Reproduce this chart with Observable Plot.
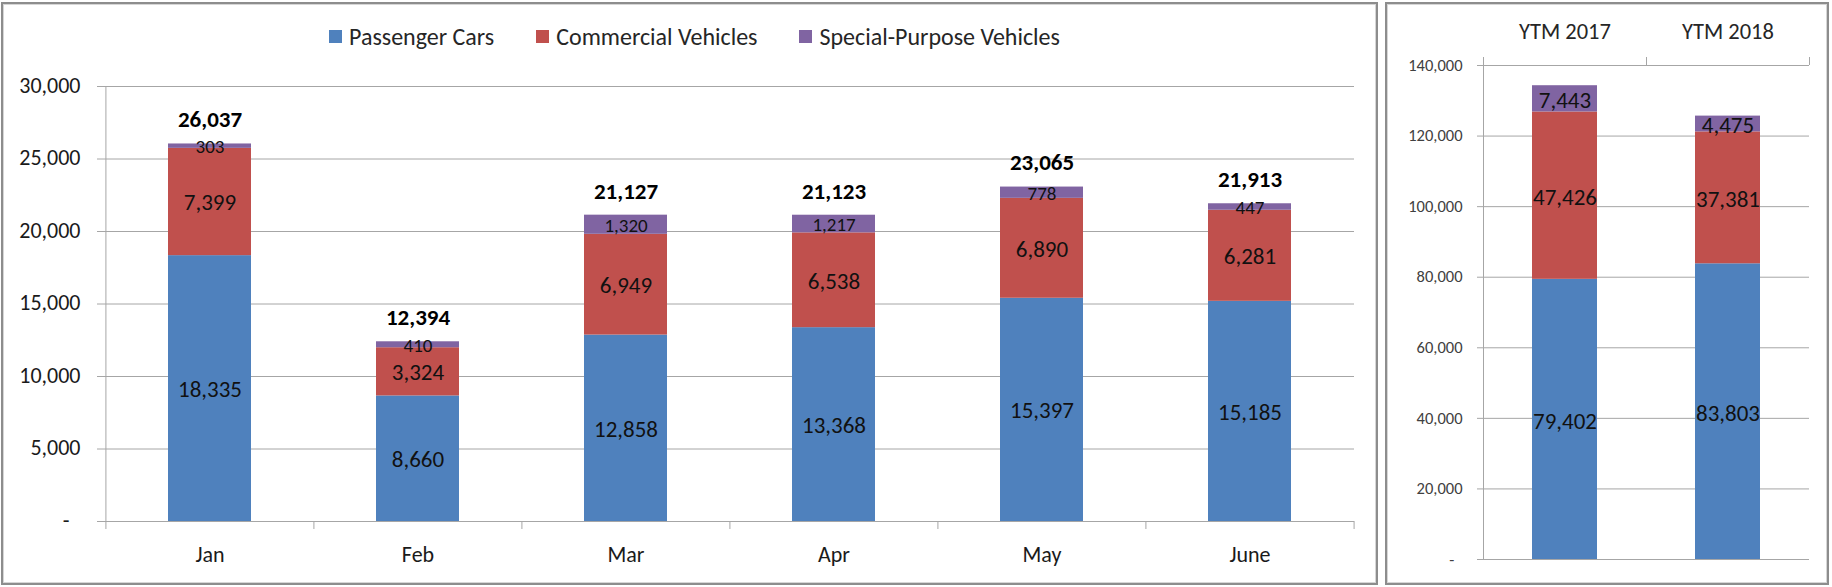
<!DOCTYPE html>
<html>
<head>
<meta charset="utf-8">
<script src="https://cdn.jsdelivr.net/npm/d3@7"></script>
<script src="https://cdn.jsdelivr.net/npm/@observablehq/plot@0.6"></script>
<style>
  html, body { margin: 0; padding: 0; background: #fff; }
  body { width: 1832px; height: 587px; position: relative; overflow: hidden; font-family: Calibri, Carlito, Lato, sans-serif; }
  .panel { position: absolute; box-sizing: border-box; border: 2px solid #8d8d8d; box-shadow: inset 0 0 0 1px #d6d6d6; pointer-events: none; }
  #left-panel { left: 1px; top: 2px; width: 1377px; height: 583px; }
  #right-panel { left: 1385px; top: 2px; width: 444px; height: 583px; }
  #legend { position: absolute; left: 329px; top: 22px; display: flex; align-items: center; font-size: 24px; color: #262626; white-space: nowrap; }
  #legend .item { display: flex; align-items: center; margin-right: 42px; }
  #legend .sw { width: 13px; height: 13px; margin-right: 7px; }
  #leftChart { position: absolute; left: 0; top: 0; }
  #rightChart { position: absolute; left: 1386px; top: 0; }
</style>
</head>
<body>
<div id="leftChart"></div>
<div id="rightChart"></div>
<div id="legend"></div>
<div class="panel" id="left-panel"></div>
<div class="panel" id="right-panel"></div>
<script>
// ---------- data ----------
const seriesNames = ["Passenger Cars", "Commercial Vehicles", "Special-Purpose Vehicles"];
const seriesColors = ["#4F81BD", "#C0504D", "#8064A2"];

const months = ["Jan", "Feb", "Mar", "Apr", "May", "June"];
const passengerCars = [18335, 8660, 12858, 13368, 15397, 15185];
const commercialVehicles = [7399, 3324, 6949, 6538, 6890, 6281];
const specialPurposeVehicles = [303, 410, 1320, 1217, 778, 447];
const monthTotals = [26037, 12394, 21127, 21123, 23065, 21913];
const leftTicks = [0, 5000, 10000, 15000, 20000, 25000, 30000];

const ytmPeriods = ["YTM 2017", "YTM 2018"];
const ytmPassengerCars = [79402, 83803];
const ytmCommercialVehicles = [47426, 37381];
const ytmSpecialPurposeVehicles = [7443, 4475];
const rightTicks = [0, 20000, 40000, 60000, 80000, 100000, 120000, 140000];

// ---------- helpers ----------
const FONT = "Calibri, Carlito, Lato, sans-serif";
const GRID = "#a6a6a6";
const num = d3.format(",");
function toRows(cats, a, b, c) {
  return cats.flatMap((k, i) => [
    {cat: k, series: seriesNames[0], value: a[i]},
    {cat: k, series: seriesNames[1], value: b[i]},
    {cat: k, series: seriesNames[2], value: c[i]}
  ]);
}
const monthRows = toRows(months, passengerCars, commercialVehicles, specialPurposeVehicles);
const ytmRows = toRows(ytmPeriods, ytmPassengerCars, ytmCommercialVehicles, ytmSpecialPurposeVehicles);

// ---------- legend ----------
const legend = document.getElementById("legend");
seriesNames.forEach((s, i) => {
  const it = document.createElement("div");
  it.className = "item";
  const sw = document.createElement("span");
  sw.className = "sw";
  sw.style.background = seriesColors[i];
  const tx = document.createElement("span");
  tx.textContent = s;
  it.appendChild(sw); it.appendChild(tx);
  legend.appendChild(it);
});

// ---------- left chart ----------
{
  const W = 1377, H = 587, mL = 105, mR = 23, mT = 86, mB = 66;
  const step = (W - mL - mR) / months.length;
  const chart = Plot.plot({
    width: W, height: H,
    marginLeft: mL, marginRight: mR, marginTop: mT, marginBottom: mB,
    style: {fontFamily: FONT, fontSize: "22px", color: "#1a1a1a", background: "transparent", overflow: "visible"},
    x: {domain: months, paddingInner: 0.6, paddingOuter: 0.3, label: null},
    y: {domain: [0, 30000], label: null},
    color: {domain: seriesNames, range: seriesColors},
    marks: [
      Plot.ruleY(leftTicks, {stroke: GRID, insetLeft: -8}),
      Plot.ruleX([months[0]], {x: d => d, dx: -step / 2, y1: 0, y2: 30000, stroke: GRID}),
      Plot.ruleX(months, {x: d => d, dx: -step / 2, y1: 0, y2: 0, insetBottom: -8, stroke: GRID}),
      Plot.ruleX([months[months.length - 1]], {x: d => d, dx: step / 2, y1: 0, y2: 0, insetBottom: -8, stroke: GRID}),
      Plot.barY(monthRows, Plot.stackY({x: "cat", y: "value", z: "series", fill: "series"})),
      Plot.text(monthRows, Plot.stackY({
        x: "cat", y: "value", z: "series",
        text: d => num(d.value),
        fontSize: d => d.series === seriesNames[2] ? 19 : 23,
        fill: "#111", dy: 1
      })),
      Plot.text(months, {
        x: d => d, y: (d, i) => monthTotals[i], text: (d, i) => num(monthTotals[i]),
        dy: -24, fontWeight: "bold", fontSize: 23, fill: "#000"
      }),
      Plot.axisY({ticks: leftTicks, tickSize: 0, tickPadding: 25, fontSize: 22, label: null, dy: -1,
        tickFormat: d => d === 0 ? "-\u2002" : num(d)}),
      Plot.axisX({tickSize: 0, tickPadding: 25, fontSize: 22, label: null})
    ]
  });
  document.getElementById("leftChart").appendChild(chart);
}

// ---------- right chart ----------
{
  const W = 446, H = 587, mL = 97, mR = 23, mT = 65, mB = 28;
  const step = (W - mL - mR) / ytmPeriods.length;
  const chart = Plot.plot({
    width: W, height: H,
    marginLeft: mL, marginRight: mR, marginTop: mT, marginBottom: mB,
    style: {fontFamily: FONT, fontSize: "16px", color: "#1a1a1a", background: "transparent", overflow: "visible"},
    x: {domain: ytmPeriods, paddingInner: 0.6, paddingOuter: 0.3, label: null},
    y: {domain: [0, 140000], label: null},
    color: {domain: seriesNames, range: seriesColors},
    marks: [
      Plot.ruleY(rightTicks, {stroke: GRID, insetLeft: -6}),
      Plot.ruleX([ytmPeriods[0]], {x: d => d, dx: -step / 2, y1: 0, y2: 140000, stroke: GRID}),
      Plot.ruleX(ytmPeriods, {x: d => d, dx: -step / 2, y1: 140000, y2: 140000, insetTop: -8, stroke: GRID}),
      Plot.ruleX([ytmPeriods[ytmPeriods.length - 1]], {x: d => d, dx: step / 2, y1: 140000, y2: 140000, insetTop: -8, stroke: GRID}),
      Plot.barY(ytmRows, Plot.stackY({x: "cat", y: "value", z: "series", fill: "series"})),
      Plot.text(ytmRows, Plot.stackY({
        x: "cat", y: "value", z: "series",
        text: d => num(d.value), fontSize: 23, fill: "#111", dy: 2
      })),
      Plot.axisY({ticks: rightTicks, tickSize: 0, tickPadding: 21, fontSize: 16.5, color: "#404040", label: null,
        tickFormat: d => d === 0 ? "-\u2002" : num(d)}),
      Plot.axisX({anchor: "top", tickSize: 0, tickPadding: 27, fontSize: 22.5, color: "#262626", label: null})
    ]
  });
  document.getElementById("rightChart").appendChild(chart);
}
</script>
</body>
</html>
